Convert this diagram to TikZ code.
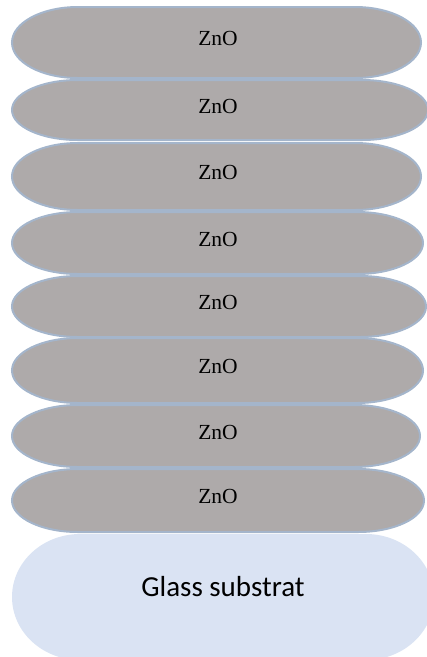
\documentclass[tikz,border=0pt]{standalone}
\usepackage{fontspec}
\usepackage{tikz}
\newfontfamily\znofont{Liberation Serif}
\newfontfamily\glassfont{Carlito}
\definecolor{znofill}{HTML}{AEAAAA}
\definecolor{znoline}{HTML}{A4B5CB}
\definecolor{glassfill}{HTML}{DAE3F3}

\begin{document}
\begin{tikzpicture}[
    x=1pt, y=1pt,
    layer/.style={fill=znofill, draw=znoline, line width=2pt},
    substrate/.style={fill=glassfill},
    lbl/.style={font=\znofont\fontsize{21.5}{24}\selectfont, inner sep=0pt},
    glbl/.style={font=\glassfont\fontsize{29}{32}\selectfont, inner sep=0pt}
]
\clip (0,0) rectangle (427,-657);
% ZnO layers: number/top/bottom/right edge
\foreach \i/\t/\b/\r in {1/7/78/421, 2/80/140/428, 3/143/210/421, 4/212/274/423,
                         5/276/337/426, 6/338/403/423, 7/405/467/420, 8/469/532/424}{
    \pgfmathsetmacro{\ry}{(\b-\t)/2}
    \draw[layer] (78,-\t) -- (\r-66,-\t)
        arc[start angle=90, end angle=-90, x radius=66pt, y radius=\ry pt]
        -- (78,-\b)
        arc[start angle=270, end angle=90, x radius=66pt, y radius=\ry pt] -- cycle;
    \node[lbl] (zno\i) at (218,{-(\t+\b)/2+4}) {ZnO};
}
% glass substrate
\fill[substrate] (80,-534) -- (366,-534)
    arc[start angle=90, end angle=-90, x radius=68pt, y radius=63pt]
    -- (80,-660)
    arc[start angle=270, end angle=90, x radius=68pt, y radius=63pt] -- cycle;
\node[glbl] (glass) at (223,-587) {Glass substrat};
\end{tikzpicture}
\end{document}
